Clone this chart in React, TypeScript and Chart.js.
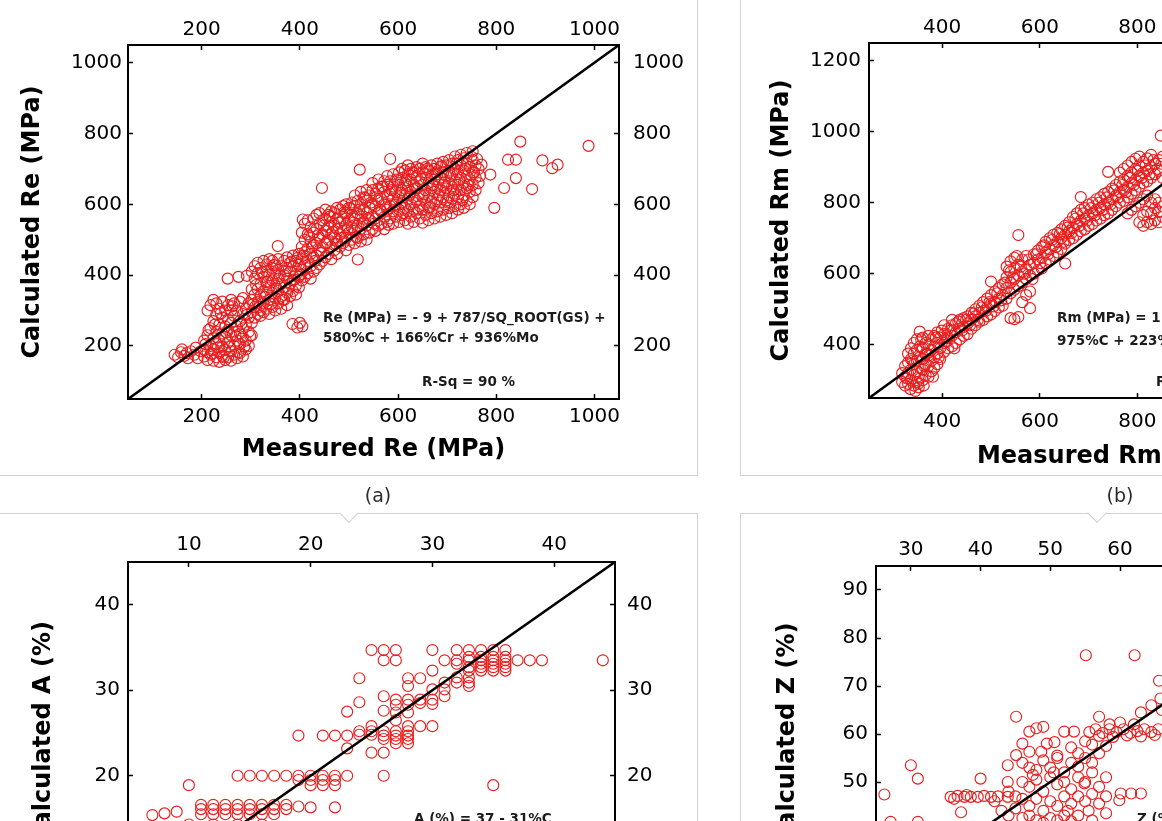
import React, { useEffect, useRef } from "react";
import { Chart, registerables } from "chart.js";

Chart.register(...registerables);

type Pt = [number, number];

// ---------------- (a) Re ----------------
const reRange: Pt = [50, 1050];
const reTicks = [200, 400, 600, 800, 1000];
const reEquation = ["Re (MPa) = - 9 + 787/SQ_ROOT(GS) +", "580%C + 166%Cr + 936%Mo", "R-Sq = 90 %"];
const rePoints: Pt[] = [
  [145,175],[152,168],[158,182],[165,172],[172,165],[178,185],[185,175],[192,165],[198,185],[160,190],[170,180],[188,195],
  [205,170],[205,190],[205,215],
  [212,160],[212,182],[212,230],[212,300],
  [218,175],[218,200],[218,250],[218,315],
  [224,158],[224,190],[224,222],[224,270],[224,330],
  [230,168],[230,205],[230,240],[230,290],[230,320],
  [236,155],[236,180],[236,215],[236,260],[236,305],
  [242,172],[242,198],[242,235],[242,280],[242,325],
  [248,160],[248,188],[248,225],[248,255],[248,300],
  [254,168],[254,210],[254,245],[254,275],[254,315],
  [260,158],[260,185],[260,230],[260,265],[260,300],[260,330],
  [266,175],[266,200],[266,240],[266,285],[266,320],
  [272,165],[272,215],[272,255],[272,300],
  [278,180],[278,205],[278,235],[278,270],[278,325],
  [284,170],[284,225],[284,250],[284,290],[284,335],
  [290,190],[290,215],[290,260],[290,305],
  [296,200],[296,240],[296,280],[296,320],
  [302,230],[302,265],[302,295],[302,330],[302,360],[302,410],
  [308,280],[308,310],[308,345],[308,390],[308,425],
  [314,290],[314,325],[314,360],[314,405],[314,435],
  [320,285],[320,300],[320,340],[320,375],[320,420],
  [326,295],[326,320],[326,355],[326,395],[326,440],
  [332,305],[332,345],[332,380],[332,410],[332,430],
  [338,290],[338,330],[338,365],[338,400],[338,445],
  [344,310],[344,350],[344,385],[344,420],[344,440],
  [350,300],[350,335],[350,370],[350,405],[350,430],
  [356,320],[356,355],[356,390],[356,415],[356,445],
  [362,305],[362,340],[362,375],[362,425],
  [368,330],[368,365],[368,400],[368,440],
  [374,315],[374,350],[374,390],[374,420],[374,450],
  [380,340],[380,375],[380,410],[380,435],
  [386,355],[386,385],[386,425],[386,455],
  [392,345],[392,370],[392,400],[392,440],
  [398,365],[398,395],[398,430],[398,460],
  [404,385],[404,415],[404,445],[404,480],[404,520],
  [410,395],[410,430],[410,465],[410,500],[410,545],
  [416,405],[416,440],[416,475],[416,515],[416,555],
  [422,390],[422,425],[422,460],[422,495],[422,535],
  [428,410],[428,450],[428,485],[428,520],[428,560],
  [434,420],[434,455],[434,490],[434,530],[434,570],
  [440,430],[440,470],[440,505],[440,545],[440,575],
  [446,440],[446,480],[446,515],[446,555],
  [452,450],[452,490],[452,525],[452,560],[452,585],
  [458,460],[458,500],[458,535],[458,570],
  [464,445],[464,480],[464,515],[464,550],[464,580],
  [470,470],[470,505],[470,540],[470,575],
  [476,460],[476,495],[476,530],[476,560],[476,590],
  [482,480],[482,515],[482,550],[482,585],
  [488,490],[488,525],[488,560],[488,595],
  [494,470],[494,505],[494,540],[494,575],[494,600],
  [500,485],[500,520],[500,555],[500,590],
  [506,500],[506,535],[506,570],[506,605],
  [512,490],[512,525],[512,560],[512,595],[512,625],
  [518,505],[518,540],[518,575],[518,610],
  [524,495],[524,530],[524,565],[524,600],[524,635],
  [530,515],[530,550],[530,585],[530,620],
  [536,500],[536,540],[536,575],[536,610],[536,640],
  [542,520],[542,555],[542,590],[542,625],
  [548,530],[548,565],[548,600],[548,640],[548,660],
  [554,525],[554,560],[554,595],[554,630],
  [560,540],[560,575],[560,610],[560,645],[560,670],
  [566,545],[566,580],[566,615],[566,650],
  [572,530],[572,565],[572,600],[572,635],[572,665],
  [578,550],[578,585],[578,620],[578,655],[578,680],
  [584,560],[584,595],[584,630],[584,665],
  [590,545],[590,580],[590,615],[590,650],[590,685],
  [596,565],[596,600],[596,635],[596,670],
  [602,550],[602,585],[602,620],[602,655],[602,690],
  [608,570],[608,605],[608,640],[608,675],[608,700],
  [614,555],[614,590],[614,625],[614,660],[614,695],
  [620,545],[620,580],[620,615],[620,650],[620,685],[620,710],
  [626,565],[626,600],[626,635],[626,670],[626,700],
  [632,550],[632,585],[632,620],[632,655],[632,690],
  [638,575],[638,610],[638,645],[638,680],[638,705],
  [644,560],[644,595],[644,630],[644,665],[644,700],
  [650,548],[650,585],[650,620],[650,655],[650,690],[650,715],
  [656,570],[656,605],[656,640],[656,675],[656,705],
  [662,555],[662,590],[662,625],[662,660],[662,695],
  [668,575],[668,610],[668,645],[668,680],[668,710],
  [674,560],[674,600],[674,635],[674,670],[674,700],
  [680,580],[680,615],[680,650],[680,685],[680,715],
  [686,565],[686,605],[686,640],[686,675],[686,705],
  [692,585],[692,620],[692,655],[692,690],[692,720],
  [698,570],[698,610],[698,645],[698,680],[698,710],
  [704,590],[704,625],[704,660],[704,695],[704,725],
  [710,575],[710,615],[710,650],[710,685],[710,715],
  [716,595],[716,630],[716,665],[716,700],[716,735],
  [722,585],[722,620],[722,655],[722,690],[722,725],
  [728,600],[728,640],[728,675],[728,710],[728,740],
  [734,590],[734,625],[734,660],[734,695],[734,730],
  [740,610],[740,645],[740,680],[740,715],[740,745],
  [746,600],[746,635],[746,670],[746,705],
  [752,620],[752,655],[752,690],[752,725],[752,750],
  [758,640],[758,675],[758,710],
  [764,660],[764,700],
  [208,205],[214,245],[221,178],[227,260],[233,196],[239,292],[245,168],[251,238],[257,198],[263,312],
  [269,228],[275,182],[281,262],[287,198],[293,288],[299,228],[305,318],[311,372],[317,310],[323,408],
  [329,338],[335,382],[341,318],[347,428],[353,362],[359,398],[365,330],[371,412],[377,362],[383,438],
  [389,388],[395,448],[401,402],[407,455],[413,420],[419,510],[425,478],[431,440],[437,512],[443,462],
  [449,540],[455,492],[461,565],[467,522],[473,488],[479,548],[485,505],[491,578],[497,530],[503,588],
  [509,548],[515,508],[521,585],[527,545],[533,618],[539,560],[545,605],[551,545],[557,622],[563,585],
  [569,650],[575,598],[581,542],[587,640],[593,598],[599,668],[605,632],[611,575],[617,668],[623,625],
  [629,690],[635,645],[641,585],[647,672],[653,628],[659,700],[665,592],[671,655],[677,690],[683,625],
  [689,708],[695,662],[701,605],[707,680],[713,640],[719,715],[725,668],[731,612],[737,700],[743,655],
  [749,735],[755,690],[761,728],[767,680],[770,712],
  [253,390],[275,395],[292,398],[385,262],[395,252],[405,255],[400,265],[355,482],[406,557],[445,646],
  [518,444],[522,698],[584,728],[788,684],[796,590],[816,646],[824,726],[840,674],[840,726],[849,777],
  [873,643],[894,724],[914,702],[925,712],[988,765]
];

// ---------------- (b) Rm ----------------
const rmRange: Pt = [250, 1250];
const rmTicks = [400, 600, 800, 1000, 1200];
const rmEquation = ["Rm (MPa) = 1", "975%C + 223%", "R-Sq ="];
const rmPoints: Pt[] = [
  [318,295],[318,320],
  [324,285],[324,310],[324,340],
  [330,290],[330,320],[330,350],[330,375],
  [336,300],[336,330],[336,360],[336,390],
  [342,285],[342,315],[342,345],[342,375],[342,405],
  [348,295],[348,325],[348,355],[348,385],[348,415],
  [354,305],[354,335],[354,365],[354,395],[354,437],
  [360,300],[360,330],[360,360],[360,390],[360,420],
  [366,315],[366,345],[366,375],[366,405],
  [372,310],[372,340],[372,370],[372,400],[372,425],
  [378,325],[378,355],[378,385],[378,415],
  [384,335],[384,365],[384,395],[384,425],
  [390,345],[390,375],[390,405],[390,435],
  [396,360],[396,390],[396,420],
  [335,275],[345,270],[352,280],[362,285],
  [404,380],[404,405],[404,430],[404,455],
  [412,390],[412,420],[412,445],
  [420,395],[420,425],[420,455],[420,470],
  [428,405],[428,435],[428,460],
  [436,415],[436,445],[436,470],
  [444,425],[444,450],[444,475],
  [452,430],[452,460],[452,480],
  [460,445],[460,470],[460,490],
  [468,455],[468,480],[468,500],
  [476,465],[476,490],[476,510],
  [484,470],[484,495],[484,520],
  [492,480],[492,505],[492,530],
  [500,485],[500,515],[500,540],[500,578],
  [508,495],[508,520],[508,550],
  [516,505],[516,530],[516,560],
  [524,510],[524,540],[524,570],
  [532,530],[532,560],[532,590],[532,620],
  [540,475],[540,545],[540,575],[540,605],[540,635],
  [548,472],[548,555],[548,585],[548,615],[548,645],
  [556,478],[556,565],[556,595],[556,625],[556,709],
  [564,520],[564,575],[564,605],[564,640],
  [572,540],[572,585],[572,615],[572,650],
  [580,503],[580,550],[580,595],[580,625],
  [588,600],[588,630],[588,655],
  [596,610],[596,640],[596,665],
  [604,615],[604,645],[604,675],
  [612,630],[612,660],[612,690],
  [620,640],[620,670],[620,700],
  [628,650],[628,680],[628,710],
  [636,660],[636,690],[636,715],
  [644,670],[644,700],[644,725],
  [652,629],[652,685],[652,710],[652,735],
  [660,695],[660,720],[660,745],
  [668,700],[668,730],[668,760],
  [676,710],[676,740],[676,770],
  [684,720],[684,750],[684,780],[684,816],
  [692,725],[692,755],[692,785],
  [700,735],[700,765],[700,795],
  [708,740],[708,770],[708,800],
  [716,750],[716,780],[716,810],
  [724,755],[724,785],[724,815],
  [732,765],[732,795],[732,825],
  [740,770],[740,800],[740,830],[740,887],
  [748,780],[748,810],[748,840],
  [756,790],[756,820],[756,850],
  [764,800],[764,830],[764,860],[764,885],
  [772,805],[772,835],[772,865],[772,895],
  [780,770],[780,815],[780,845],[780,875],[780,905],
  [788,780],[788,825],[788,855],[788,885],[788,915],
  [796,790],[796,835],[796,865],[796,895],[796,924],
  [804,745],[804,800],[804,845],[804,875],[804,905],[804,930],
  [812,735],[812,765],[812,810],[812,855],[812,885],[812,915],
  [820,745],[820,775],[820,820],[820,860],[820,890],[820,925],
  [828,740],[828,770],[828,800],[828,870],[828,900],[828,935],
  [836,750],[836,785],[836,810],[836,880],[836,910],
  [844,745],[844,775],[844,800],[844,890],[844,920],
  [852,760],[852,790],[852,870],[852,930],[848,989],
  [328,305],[339,355],[351,290],[357,415],[363,340],[369,375],[381,310],[387,420],[393,365],[399,440],
  [409,410],[417,440],[425,390],[433,465],[441,440],[449,470],[457,455],[465,488],[473,470],[481,505],
  [489,495],[497,520],[505,508],[513,545],[521,525],[529,575],[537,610],[545,590],[553,650],[561,620],
  [569,600],[577,640],[585,585],[593,655],[601,630],[609,680],[617,655],[625,695],[633,675],[641,712],
  [649,690],[657,730],[665,715],[673,755],[681,735],[689,770],[697,750],[705,785],[713,765],[721,800],
  [729,780],[737,815],[745,795],[753,835],[761,815],[769,850],[777,830],[785,870],[793,850],[801,890],
  [809,870],[817,905],[825,880],[833,920],[841,895],[849,910],
  [865,905],[880,950],[900,975],[930,1000],[960,1010],[990,1030]
];

// ---------------- (c) A ----------------
const aRange: Pt = [5, 45];
const aTicks = [10, 20, 30, 40];
const aEquation = ["A (%) = 37 - 31%C"];
const aPoints: Pt[] = [
  [25,34.7],[26,34.7],[27,34.7],[30,34.7],[32,34.7],[33,34.7],[34,34.7],[35,34.7],[36,34.7],
  [26,33.5],[27,33.5],[31,33.5],[32,33.5],[33,33.5],[34,33.5],[35,33.5],[36,33.5],[37,33.5],[38,33.5],[39,33.5],[44,33.5],
  [33,33.9],[34,33.9],[35,33.9],[36,33.9],[32,33.1],[34,33.1],[35,33.1],[36,33.1],
  [33,32.7],[34,32.7],[35,32.7],[36,32.7],
  [30,32.3],[33,32.3],[34,32.3],[35,32.3],[36,32.3],
  [24,31.4],[28,31.4],[29,31.4],[32,31.5],[33,31.5],
  [31,30.9],[32,30.9],[33,30.9],
  [28,30.5],[33,30.5],
  [30,30.1],[31,30.1],
  [26,29.3],[31,29.3],
  [27,28.9],[28,28.9],[29,28.9],[30,28.9],
  [24,28.6],[29,28.5],[30,28.4],[27,28.3],[28,28.3],
  [23,27.5],[26,27.6],[27,27.4],[28,27.4],
  [27,26.5],
  [25,25.8],[28,25.8],[29,25.8],[30,25.8],
  [24,25.2],[25,25.2],[26,25.2],[27,25.2],[28,25.2],
  [19,24.7],[21,24.7],[22,24.7],[23,24.7],[24,24.8],[25,24.8],[26,24.7],[27,24.7],[28,24.7],
  [26,24.3],[27,24.3],[28,24.3],
  [27,23.8],[28,23.8],
  [23,23.2],
  [25,22.7],[26,22.7],
  [14,20],[15,20],[16,20],[17,20],[18,20],[19,20],[20,20],[21,20],[22,20],[23,20],[26,20],
  [19,19.5],[20,19.5],[21,19.5],[22,19.5],
  [10,18.9],[20,18.9],[21,18.9],[22,18.9],[35,18.9],
  [11,16.6],[12,16.6],[13,16.6],[14,16.6],[15,16.6],[16,16.6],[17,16.6],[18,16.6],[19,16.4],[20,16.3],[22,16.3],
  [9,15.8],[11,16.1],[12,16.1],[13,16.1],[14,16.1],[15,16.1],[16,16.1],[17,16.1],[18,16.1],
  [7,15.4],[8,15.6],[11,15.5],[12,15.5],[13,15.5],[14,15.5],[15,15.5],[16,15.5],[17,15.5],
  [10,14.3],[12,14.3],[14,14.3],[16,14.3],[9,13],[11,13],[13,13],[15,13],[8,11],[10,11],[12,11],[7,9],[9,9]
];

// ---------------- (d) Z ----------------
const zRange: Pt = [25, 95];
const zTicks = [30, 40, 50, 60, 70, 80, 90];
const zEquation = ["Z (%) ="];
const zPoints: Pt[] = [
  [55.1,76.4],[62.1,76.4],[65.6,71.1],
  [57,63.6],[45.1,63.6],
  [63,64.5],[64.5,66],[65.8,67.4],[66,65],
  [47,60.5],[48,61.2],[49,61.5],[52,60.5],[53.4,60.5],
  [55.6,60.4],[56.5,61],[57.5,60.2],[58.5,61],[59.5,60.4],[60.5,61],[61.5,60.2],[62.5,60.6],[63.5,61],[64.5,60.4],[65.5,61],
  [57,59.6],[59,59.4],[61,59.7],[63,59.5],[65,59.8],[58.5,62],[60,62.4],[62,62],
  [50.6,58.3],[46,58],[49.5,58],[53,57.2],[55,58.5],[56,57.8],[58,57.5],
  [47,56.3],[48.7,56.3],[45.1,55.6],[51,55.5],[54,56],[43.9,53.5],[46,54],[47,53],[48,52.5],[49,54.5],[50,53],[51,55],[52,52],[53,54],[54,53.2],[55,55],[56,54],[57,56],
  [43.9,50],[46,50],[47,49],[48,50.5],[49,48],[50,51],[51,49.5],[52,50],[53,48.5],[54,51],[55,50],[56,52],[57,49],[58,51],[54.9,49.7],[50.5,52],[47.5,51.5],
  [44,48],[45,47],[46,46.5],[47,45],[48,46.5],[49,44],[50,46],[51,45],[52,47],[53,45.5],[54,47],[55,46],[56,47.5],[57,45.5],[58,47],[52.5,44],[55.5,44],
  [42,46],[43,44],[44,43],[45,44.5],[46,42.5],[47,43],[48,42],[49,41.5],[50,42.5],[51,42],[52,43],[53,41.8],[54,43],[56,42],[58,43.5],
  [60.1,47.6],[61.6,47.6],[63,47.6],[59.9,46.2],
  [35.7,46.9],[36.2,46.5],[36.7,47.1],[37.7,46.9],[38,47.3],[38.6,46.9],[39.6,46.9],[40.5,47.1],[41.5,46.9],[42.5,47],[43.9,46.9],
  [40,50.7],[37.2,43.7],[30,53.5],[31,50.7],[26.2,47.4],[27.1,41.7],[31,41.7],
  [35,38],[40,36],[45,40],[38,32],[42,35],[33,30],[36,34]
];

const captions = ["(a)", "(b)"];

// ---------------- layout ----------------
interface Layout {
  canvas: { left: number; top: number; width: number; height: number };
  area: { left: number; top: number; right: number; bottom: number };
  topLabelY: number;
  bottomLabelY: number;
  leftLabelRight: number;
  rightLabelLeft: number;
  yTitleX: number;
  xTitleY: number;
  notes: { x: number; y: number }[];
}

interface PanelDef {
  id: string;
  points: Pt[];
  range: Pt;
  ticks: number[];
  xTitle: string;
  yTitle: string;
  notes: string[];
  layout: Layout;
}

const panels: PanelDef[] = [
  {
    id: "re", points: rePoints, range: reRange, ticks: reTicks,
    xTitle: "Measured Re (MPa)", yTitle: "Calculated Re (MPa)", notes: reEquation,
    layout: {
      canvas: { left: 0, top: 0, width: 700, height: 476 },
      area: { left: 128, top: 45, right: 619, bottom: 399 },
      topLabelY: 30, bottomLabelY: 417, leftLabelRight: 122, rightLabelLeft: 633,
      yTitleX: 33, xTitleY: 450,
      notes: [{ x: 323, y: 318 }, { x: 323, y: 338 }, { x: 422, y: 382 }],
    },
  },
  {
    id: "rm", points: rmPoints, range: rmRange, ticks: rmTicks,
    xTitle: "Measured Rm (MPa)", yTitle: "Calculated Rm (MPa)", notes: rmEquation,
    layout: {
      canvas: { left: 740, top: 0, width: 698, height: 480 },
      area: { left: 869, top: 43, right: 1357, bottom: 398 },
      topLabelY: 28, bottomLabelY: 422, leftLabelRight: 861, rightLabelLeft: 1371,
      yTitleX: 782, xTitleY: 457,
      notes: [{ x: 1057, y: 318 }, { x: 1057, y: 341 }, { x: 1156, y: 382 }],
    },
  },
  {
    id: "a", points: aPoints, range: aRange, ticks: aTicks,
    xTitle: "Measured A (%)", yTitle: "Calculated A (%)", notes: aEquation,
    layout: {
      canvas: { left: 0, top: 480, width: 696, height: 501 },
      area: { left: 128, top: 562, right: 615, bottom: 904 },
      topLabelY: 545, bottomLabelY: 922, leftLabelRight: 120, rightLabelLeft: 627,
      yTitleX: 44, xTitleY: 955,
      notes: [{ x: 414, y: 819 }],
    },
  },
  {
    id: "z", points: zPoints, range: zRange, ticks: zTicks,
    xTitle: "Measured Z (%)", yTitle: "Calculated Z (%)", notes: zEquation,
    layout: {
      canvas: { left: 740, top: 480, width: 705, height: 499 },
      area: { left: 876, top: 566, right: 1364, bottom: 902 },
      topLabelY: 550, bottomLabelY: 920, leftLabelRight: 868, rightLabelLeft: 1378,
      yTitleX: 788, xTitleY: 953,
      notes: [{ x: 1137, y: 819 }],
    },
  },
];

const FAMILY = "DejaVu Sans";
const RED = "rgb(232,30,30)";
const TICK_SIZE = 20;
const TITLE_SIZE = 24;
const TL = -5;

function buildConfig(p: PanelDef) {
  const L = p.layout;
  const c = L.canvas;
  const tickLH = TICK_SIZE * 1.2;
  const titleLH = TITLE_SIZE * 1.2;
  const leftW = L.area.left - c.left;
  const rightW = c.left + c.width - L.area.right;
  const topH = L.area.top - c.top;
  const bottomH = c.top + c.height - L.area.bottom;
  const [mn, mx] = p.range;
  const setTicks = (vals: number[]) => (s: any) => {
    s.ticks = vals.map((v) => ({ value: v }));
  };
  const grid = {
    display: true,
    drawOnChartArea: false,
    drawTicks: true,
    tickLength: TL,
    tickWidth: 1.5,
    tickColor: "#000",
  };
  const border = { display: true, color: "#000", width: 2 };
  const tickOpts = (padding: number) => ({
    font: { family: FAMILY, size: TICK_SIZE },
    color: "#000",
    padding,
    autoSkip: false,
    maxRotation: 0,
    minRotation: 0,
    callback: (v: any) => String(v),
  });
  const titleFont = { family: FAMILY, size: TITLE_SIZE, weight: "bold" as const };

  const notesPlugin = {
    id: "notes-" + p.id,
    afterDraw(chart: any) {
      const ctx = chart.ctx as CanvasRenderingContext2D;
      ctx.save();
      ctx.font = `bold 13.5px "${FAMILY}"`;
      ctx.fillStyle = "#1c1c1c";
      ctx.textBaseline = "middle";
      ctx.textAlign = "left";
      p.notes.forEach((t, i) => {
        const pos = L.notes[i];
        if (pos) ctx.fillText(t, pos.x - c.left, pos.y - c.top);
      });
      ctx.restore();
    },
  };

  return {
    type: "scatter",
    data: {
      datasets: [
        {
          type: "line",
          data: [
            { x: mn, y: mn },
            { x: mx, y: mx },
          ],
          borderColor: "#000",
          borderWidth: 2.6,
          pointRadius: 0,
          fill: false,
          tension: 0,
          order: 0,
        },
        {
          type: "scatter",
          data: p.points.map(([x, y]) => ({ x, y })),
          pointStyle: "circle",
          pointRadius: 5.5,
          pointBorderWidth: 1.15,
          pointBorderColor: RED,
          pointBackgroundColor: "rgba(0,0,0,0)",
          showLine: false,
          order: 1,
        },
      ],
    },
    options: {
      responsive: false,
      maintainAspectRatio: false,
      animation: false,
      events: [],
      layout: { padding: 0 },
      plugins: { legend: { display: false }, tooltip: { enabled: false }, title: { display: false } },
      scales: {
        x: {
          type: "linear", position: "bottom", min: mn, max: mx,
          afterBuildTicks: setTicks(p.ticks),
          afterFit: (s: any) => { s.height = bottomH; },
          grid, border,
          ticks: tickOpts(L.bottomLabelY - L.area.bottom - tickLH / 2 - TL),
          title: {
            display: true, text: p.xTitle, color: "#000", font: titleFont,
            padding: { top: 0, bottom: c.top + c.height - titleLH / 2 - L.xTitleY },
          },
        },
        x2: {
          type: "linear", position: "top", min: mn, max: mx,
          afterBuildTicks: setTicks(p.ticks),
          afterFit: (s: any) => { s.height = topH; },
          grid, border,
          ticks: tickOpts(L.area.top - L.topLabelY - tickLH / 2 - TL),
        },
        y: {
          type: "linear", position: "left", min: mn, max: mx,
          afterBuildTicks: setTicks(p.ticks),
          afterFit: (s: any) => { s.width = leftW; },
          grid, border,
          ticks: tickOpts(L.area.left - L.leftLabelRight - TL),
          title: {
            display: true, text: p.yTitle, color: "#000", font: titleFont,
            padding: { top: L.yTitleX - c.left - titleLH / 2, bottom: 0 },
          },
        },
        y2: {
          type: "linear", position: "right", min: mn, max: mx,
          afterBuildTicks: setTicks(p.ticks),
          afterFit: (s: any) => { s.width = rightW; },
          grid, border,
          ticks: tickOpts(L.rightLabelLeft - L.area.right - TL),
        },
      },
    },
    plugins: [notesPlugin],
  };
}

function ChartPanel({ def }: { def: PanelDef }) {
  const ref = useRef<HTMLCanvasElement | null>(null);
  useEffect(() => {
    if (!ref.current) return;
    const chart = new Chart(ref.current, buildConfig(def) as any);
    return () => chart.destroy();
  }, [def]);
  const c = def.layout.canvas;
  return (
    <canvas
      ref={ref}
      width={c.width}
      height={c.height}
      style={{ position: "absolute", left: c.left, top: c.top, width: c.width, height: c.height }}
    />
  );
}

const frameStyle = (left: number, top: number, width: number, height: number): React.CSSProperties => ({
  position: "absolute",
  left,
  top,
  width,
  height,
  border: "1px solid #d2d2d2",
  boxSizing: "border-box",
});

const notchStyle = (cx: number, cy: number): React.CSSProperties => ({
  position: "absolute",
  left: cx - 7,
  top: cy - 7,
  width: 14,
  height: 14,
  background: "#fff",
  borderRight: "1px solid #d2d2d2",
  borderBottom: "1px solid #d2d2d2",
  transform: "rotate(45deg)",
  boxSizing: "border-box",
});

const captionStyle = (cx: number, cy: number): React.CSSProperties => ({
  position: "absolute",
  left: cx,
  top: cy,
  transform: "translate(-50%, -50%)",
  font: `19px "${FAMILY}"`,
  color: "#2a2a2a",
  whiteSpace: "nowrap",
  lineHeight: "22px",
});

export default function App() {
  return (
    <div
      style={{
        position: "absolute",
        left: 0,
        top: 0,
        width: 1162,
        height: 821,
        overflow: "hidden",
        background: "#fff",
      }}
    >
      <div style={frameStyle(-2, -10, 700, 486)} />
      <div style={frameStyle(740, -10, 700, 486)} />
      <div style={frameStyle(-2, 513, 700, 400)} />
      <div style={frameStyle(740, 513, 700, 400)} />
      <div style={notchStyle(349, 513)} />
      <div style={notchStyle(1097, 513)} />
      {panels.map((p) => (
        <ChartPanel key={p.id} def={p} />
      ))}
      <div style={captionStyle(378, 495)}>{captions[0]}</div>
      <div style={captionStyle(1120, 495)}>{captions[1]}</div>
    </div>
  );
}
